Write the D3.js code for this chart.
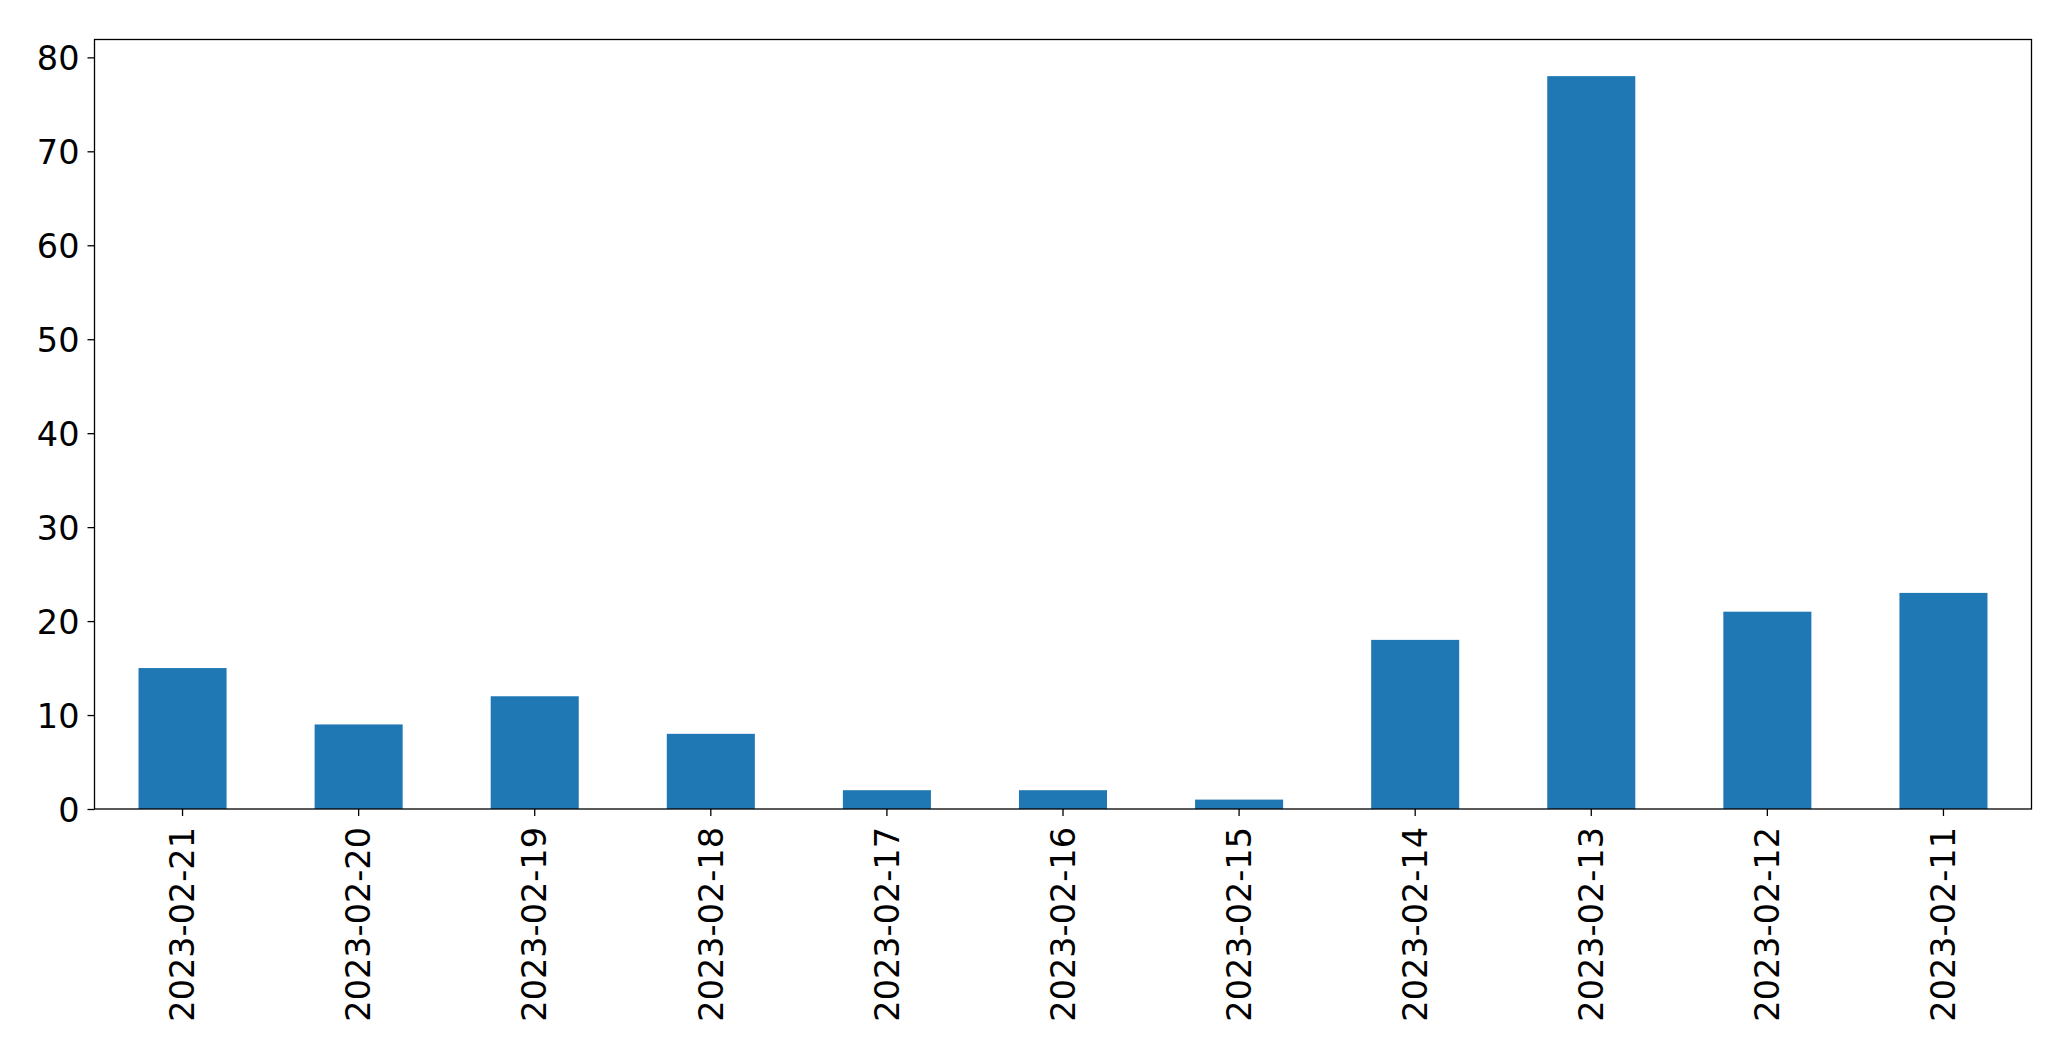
<!DOCTYPE html>
<html>
<head>
<meta charset="utf-8">
<script src="https://cdn.jsdelivr.net/npm/d3@7"></script>
<style>
  html, body { margin: 0; padding: 0; background: #fff; }
  svg { display: block; }
  text { font-family: "DejaVu Sans", sans-serif; fill: #000; }
</style>
</head>
<body>
<svg id="chart" width="2071" height="1061"></svg>
<script>
const categories = ["2023-02-21","2023-02-20","2023-02-19","2023-02-18","2023-02-17","2023-02-16","2023-02-15","2023-02-14","2023-02-13","2023-02-12","2023-02-11"];
const values = [15, 9, 12, 8, 2, 2, 1, 18, 78, 21, 23];
const yTicks = [0, 10, 20, 30, 40, 50, 60, 70, 80];

const W = 2071, H = 1061;
const m = { left: 94.5, right: W - 2031.5, top: 39.5, bottom: H - 809 };
const svg = d3.select("#chart");
const g = svg.append("g");

const x = d3.scaleBand().domain(categories)
  .range([m.left, W - m.right]).paddingInner(0.5).paddingOuter(0.25);
const y = d3.scaleLinear().domain([0, d3.max(values) * 1.05])
  .range([H - m.bottom, m.top]);

g.selectAll("rect.bar").data(values).enter().append("rect")
  .attr("class", "bar")
  .attr("x", (d, i) => x(categories[i]))
  .attr("width", x.bandwidth())
  .attr("y", d => y(d))
  .attr("height", d => y(0) - y(d))
  .attr("fill", "#1f77b4");

// Y axis
const yAxis = d3.axisLeft(y).tickValues(yTicks).tickSize(7).tickPadding(8).tickFormat(d3.format("d"));
const ya = g.append("g").attr("transform", `translate(${m.left},0)`).call(yAxis);
ya.select(".domain").remove();
ya.selectAll("line").attr("stroke", "#000").attr("stroke-width", 1.3);
ya.selectAll("text").attr("font-size", "33.5px").attr("dy", "0.36em");

// X axis
const xAxis = d3.axisBottom(x).tickSize(7).tickPadding(0);
const xa = g.append("g").attr("transform", `translate(0,${H - m.bottom})`).call(xAxis);
xa.select(".domain").remove();
xa.selectAll("line").attr("stroke", "#000").attr("stroke-width", 1.3);
xa.selectAll("text")
  .attr("font-size", "33.5px")
  .attr("text-anchor", "end")
  .attr("dy", "0.35em")
  .attr("transform", "translate(0,18) rotate(-90)")
  .attr("x", 0).attr("y", 0);

// Frame
g.append("rect")
  .attr("x", m.left).attr("y", m.top)
  .attr("width", W - m.right - m.left).attr("height", H - m.bottom - m.top)
  .attr("fill", "none").attr("stroke", "#000").attr("stroke-width", 1.3);
</script>
</body>
</html>
